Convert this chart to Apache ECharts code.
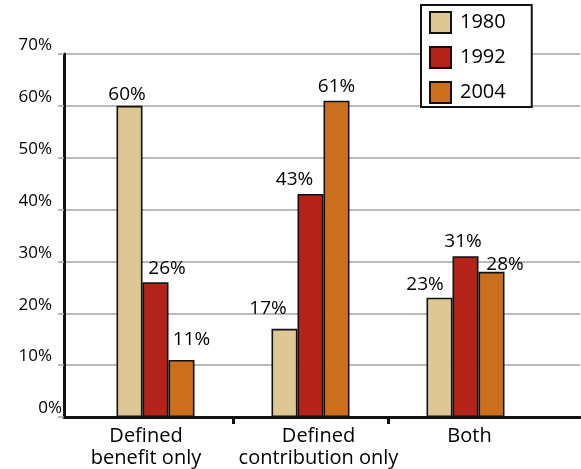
<!DOCTYPE html>
<html>
<head>
<meta charset="utf-8">
<script src="https://cdn.jsdelivr.net/npm/echarts@6/dist/echarts.min.js"></script>
<style>
  html, body { margin: 0; padding: 0; background: #fff; }
  #chart { width: 581px; height: 469px; }
</style>
</head>
<body>
<div id="chart"></div>
<script>
// Plan participation by type, shares of workers
const categories = ['Defined\nbenefit only', 'Defined\ncontribution only', 'Both'];
const years = ['1980', '1992', '2004'];
const values1980 = [60, 17, 23];
const values1992 = [26, 43, 31];
const values2004 = [11, 61, 28];
const yTickValues = [0, 10, 20, 30, 40, 50, 60, 70];

// Small label nudges [dx, dy] so value labels sit clear of neighbouring bars
const nudge1980 = [[-2.5, 3.5], [-16.5, -6], [-14.5, 1.5]];
const nudge1992 = [[11.5, 1], [-16, 0], [-2.5, 0]];
const nudge2004 = [[10, -5.5], [0, 0.5], [13.5, 7.5]];

// Horizontal shift of each category caption
const captionShift = [-9.5, 8, 4];

const FONT = '"Open Sans", "Noto Sans", sans-serif';
const TEXT = '#000';
const colors = ['#dcc795', '#b3231a', '#cc6f1d'];

const chart = echarts.init(document.getElementById('chart'), null, { renderer: 'canvas' });

function seriesData(values, nudges) {
  return values.map((v, i) => ({ value: [i + 1, v], label: { offset: nudges[i] } }));
}

const captionRich = {};
captionShift.forEach((s, i) => {
  captionRich['c' + i] = {
    fontFamily: FONT, fontSize: 20, color: TEXT, lineHeight: 22,
    padding: s < 0 ? [0, -2 * s, 0, 0] : [0, 0, 0, 2 * s]
  };
});

function makeBar(name, values, nudges, color) {
  return {
    name: name,
    type: 'bar',
    barWidth: 26,
    barGap: '0%',
    data: seriesData(values, nudges),
    itemStyle: { color: color, borderColor: '#111', borderWidth: 1.6 },
    label: {
      show: true,
      position: 'top',
      formatter: p => p.value[1] + '%',
      fontFamily: FONT,
      fontSize: 19,
      color: TEXT
    },
    z: 3
  };
}

// Band of 155 px per group; axis window chosen so groups fall at 1, 2, 3
const band = 155;
const plotLeft = 64, plotRight = 580;
const xMin = 1 - 91.5 / band;
const xMax = xMin + (plotRight - plotLeft) / band;

chart.setOption({
  animation: false,
  backgroundColor: '#fff',
  grid: { left: plotLeft, right: 581 - plotRight, top: 54, bottom: 52, containLabel: false },
  legend: {
    orient: 'vertical',
    left: 421,
    top: 5,
    padding: [6, 26, 3, 8],
    borderColor: '#111',
    borderWidth: 2,
    backgroundColor: '#fff',
    itemWidth: 21,
    itemHeight: 21,
    itemGap: 12,
    icon: 'rect',
    data: years,
    textStyle: { fontFamily: FONT, fontSize: 20, color: TEXT, padding: [0, 0, 0, 4] }
  },
  xAxis: {
    type: 'value',
    min: xMin,
    max: xMax,
    splitLine: { show: false },
    axisLine: { show: true, lineStyle: { color: '#111', width: 3 } },
    axisTick: {
      show: true,
      customValues: [1.5, 2.5],
      length: 7,
      lineStyle: { color: '#111', width: 3 }
    },
    axisLabel: {
      show: true,
      customValues: [1, 2, 3],
      margin: 8,
      formatter: v => {
        const i = Math.round(v) - 1;
        return categories[i].split('\n').map(s => '{c' + i + '|' + s + '}').join('\n');
      },
      rich: captionRich,
      verticalAlign: 'top'
    }
  },
  yAxis: {
    type: 'value',
    min: 0,
    max: 70,
    interval: 10,
    axisLine: { show: true, lineStyle: { color: '#111', width: 3 } },
    axisTick: { show: true, length: 6, lineStyle: { color: '#a3a3a3', width: 1.5 } },
    splitLine: { show: true, lineStyle: { color: '#a3a3a3', width: 1.5 } },
    axisLabel: {
      margin: 2,
      verticalAlign: 'bottom',
      formatter: v => (yTickValues.indexOf(v) === 0 ? '{z|' + v + '%}' : '{a|' + v + '%}'),
      rich: {
        a: { fontFamily: FONT, fontSize: 17, color: TEXT, padding: [0, 10, 0, 0] },
        z: { fontFamily: FONT, fontSize: 17, color: TEXT }
      }
    }
  },
  series: [
    makeBar(years[0], values1980, nudge1980, colors[0]),
    makeBar(years[1], values1992, nudge1992, colors[1]),
    makeBar(years[2], values2004, nudge2004, colors[2])
  ]
});
</script>
</body>
</html>
